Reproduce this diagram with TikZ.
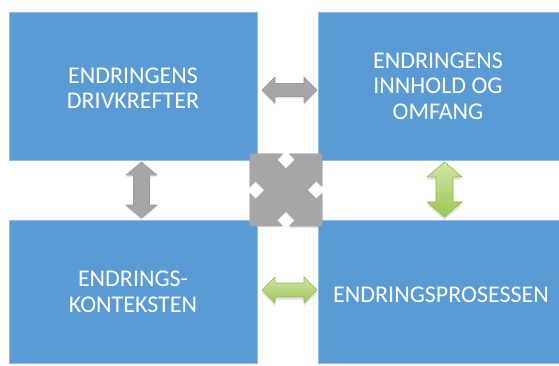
\documentclass[tikz,border=0pt]{standalone}
\usepackage{fontspec}
\setmainfont{Carlito}
\usetikzlibrary{shadows}
\definecolor{boxblue}{HTML}{5B9BD5}
\definecolor{boxedge}{HTML}{8FBCE8}
\definecolor{arrgray}{HTML}{A6A6A6}
\definecolor{arrgrayedge}{HTML}{989898}
\definecolor{grtop}{HTML}{CFE6A4}
\definecolor{grbot}{HTML}{9CC655}
\definecolor{gredge}{HTML}{8CB848}
\tikzset{
  quadbox/.style={fill=boxblue, draw=boxedge, line width=0.5pt},
  boxtext/.style={text=white, align=center, font=\fontsize{24}{25.5}\selectfont},
  grayarrow/.style={fill=arrgray, draw=arrgrayedge, line width=0.6pt, line join=round,
     drop shadow={shadow xshift=0pt, shadow yshift=-2pt, opacity=0.18}},
  grayflat/.style={fill=arrgray, draw=arrgrayedge, line width=0.6pt, line join=round},
  grayfill/.style={fill=arrgray},
  greenarrow/.style={top color=grtop, bottom color=grbot, draw=gredge, line width=0.6pt, line join=round,
     drop shadow={shadow xshift=0pt, shadow yshift=-3pt, opacity=0.2}},
}
% horizontal double arrow: cx, cy, length, shaft, head, headlength, style
\newcommand\harrow[7]{%
  \path[#7] ({#1-#3/2},#2) -- ({#1-#3/2+#6},{#2-#5/2}) -- ({#1-#3/2+#6},{#2-#4/2})
    -- ({#1+#3/2-#6},{#2-#4/2}) -- ({#1+#3/2-#6},{#2-#5/2}) -- ({#1+#3/2},#2)
    -- ({#1+#3/2-#6},{#2+#5/2}) -- ({#1+#3/2-#6},{#2+#4/2}) -- ({#1-#3/2+#6},{#2+#4/2})
    -- ({#1-#3/2+#6},{#2+#5/2}) -- cycle;}
% vertical double arrow
\newcommand\varrow[7]{%
  \path[#7] (#1,{#2-#3/2}) -- ({#1+#5/2},{#2-#3/2+#6}) -- ({#1+#4/2},{#2-#3/2+#6})
    -- ({#1+#4/2},{#2+#3/2-#6}) -- ({#1+#5/2},{#2+#3/2-#6}) -- (#1,{#2+#3/2})
    -- ({#1-#5/2},{#2+#3/2-#6}) -- ({#1-#4/2},{#2+#3/2-#6}) -- ({#1-#4/2},{#2-#3/2+#6})
    -- ({#1-#5/2},{#2-#3/2+#6}) -- cycle;}
\begin{document}
\begin{tikzpicture}[x=1pt,y=-1pt]
\useasboundingbox[fill=white] (0,0) rectangle (559,365);
% boxes
\draw[quadbox] (9,12) rectangle (257,160);
\draw[quadbox] (318,12) rectangle (559.5,160);
\draw[quadbox] (9,220) rectangle (257,363);
\draw[quadbox] (318,220) rectangle (559.5,363);
% texts
\node[boxtext] (tl) at (133,88) {ENDRINGENS\\DRIVKREFTER};
\node[boxtext] (tr) at (438,86) {ENDRINGENS\\INNHOLD OG\\OMFANG};
\node[boxtext] (bl) at (133,292) {ENDRINGS-\\KONTEKSTEN};
\node[boxtext] (br) at (441,295) {ENDRINGSPROSESSEN};
% arrows
\harrow{289.5}{90}{55}{13}{26}{13}{grayarrow}
\varrow{141.5}{190}{56}{16}{31}{13}{grayarrow}
\varrow{444.5}{189.5}{55}{17}{35}{15}{greenarrow}
\harrow{289.5}{290}{55}{14}{26}{13}{greenarrow}
% diagonal cross arrows
\begin{scope}[shift={(286,190)},rotate=-45]
\harrow{0}{0}{102}{30}{46}{23}{grayarrow}
\end{scope}
\begin{scope}[shift={(286,190)},rotate=45]
\harrow{0}{0}{102}{30}{46}{23}{grayflat}
\harrow{0}{0}{102}{30}{46}{23}{grayfill}
\end{scope}
\begin{scope}[shift={(286,190)},rotate=-45]
\harrow{0}{0}{102}{30}{46}{23}{grayfill}
\end{scope}
\end{tikzpicture}
\end{document}
